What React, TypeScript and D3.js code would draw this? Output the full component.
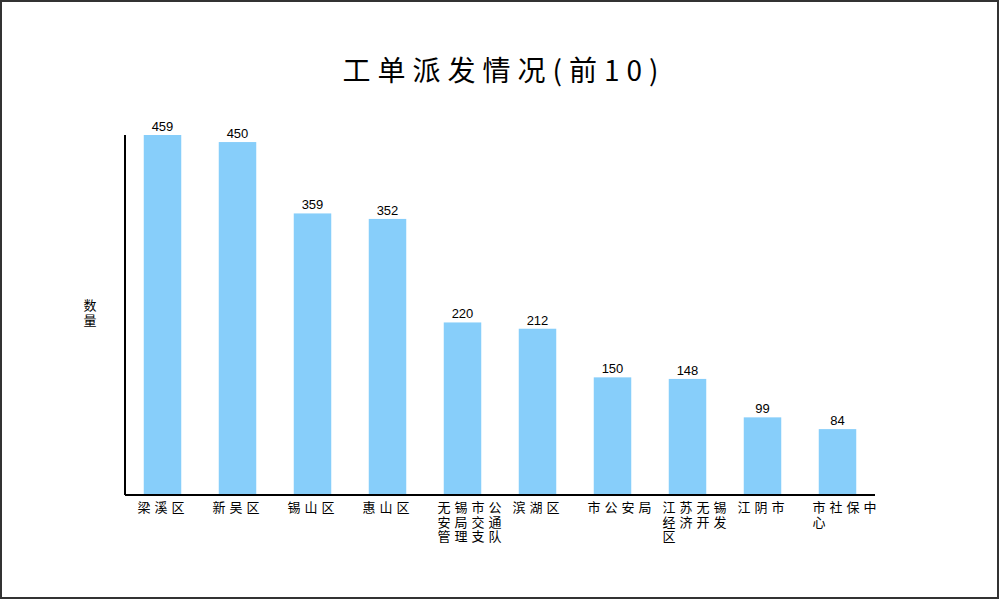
import React, { useEffect } from "react";
import * as d3 from "d3";

const categories = ["梁溪区", "新吴区", "锡山区", "惠山区", "无锡市公安局交通管理支队", "滨湖区", "市公安局", "江苏无锡经济开发区", "江阴市", "市社保中心"];
const values = [459, 450, 359, 352, 220, 212, 150, 148, 99, 84];
const title = "工单派发情况(前10)";
const yLabel = "数量";

const W = 1000, H = 600;
const m = { left: 125, right: 125, top: 135, bottom: 105 };
const CJK = "'Noto Sans CJK SC', 'Liberation Sans', sans-serif";
const CJK_TIGHT = "'Liberation Sans', 'Noto Sans CJK SC', sans-serif";
const LAT = "'Liberation Sans', Arial, sans-serif";

function wrap(s: string, n: number): string[] {
  const out: string[] = [];
  for (let i = 0; i < s.length; i += n) out.push(s.slice(i, i + n));
  return out;
}

export default function App() {
  useEffect(() => { document.body.style.margin = "0"; }, []);
  const x = d3.scaleBand<string>().domain(categories).range([m.left, W - m.right]).paddingInner(0.5).paddingOuter(0.25);
  const y = d3.scaleLinear().domain([0, 459]).range([H - m.bottom, m.top]);
  const baseY = y(0);
  return (
    <svg width={W} height={H} style={{ display: "block", background: "#fff" }}>
      <rect x={1} y={1} width={W - 3} height={H - 3} fill="#fff" stroke="#333" strokeWidth={2} />
      <text x={504} y={81} textAnchor="middle" fontFamily={CJK} fontSize={28} letterSpacing={7} fill="#000">{title}</text>
      {categories.map((c, i) => {
        const lx = x(c)! + x.bandwidth() / 2 - 25;
        return (
          <g key={c}>
            <rect x={x(c)!} y={y(values[i])} width={x.bandwidth()} height={baseY - y(values[i])} fill="#87CEFA" />
            <text x={x(c)! + x.bandwidth() / 2} y={y(values[i]) - 4} textAnchor="middle" fontFamily={LAT} fontSize={13} fill="#000">{values[i]}</text>
            <text x={lx} y={512} fontFamily={CJK_TIGHT} fontSize={13} letterSpacing={4} fill="#000">
              {wrap(c, 4).map((line, k) => (
                <tspan key={k} x={lx} dy={k === 0 ? 0 : 14.6}>{line}</tspan>
              ))}
            </text>
          </g>
        );
      })}
      <line x1={m.left} x2={m.left} y1={m.top} y2={baseY} stroke="#000" strokeWidth={2} />
      <line x1={m.left} x2={W - m.right} y1={baseY} y2={baseY} stroke="#000" strokeWidth={2} />
      <text x={90} y={310} textAnchor="middle" fontFamily={CJK_TIGHT} fontSize={13} fill="#000">
        {yLabel.split("").map((ch, k) => (
          <tspan key={k} x={90} dy={k === 0 ? 0 : 15}>{ch}</tspan>
        ))}
      </text>
    </svg>
  );
}
